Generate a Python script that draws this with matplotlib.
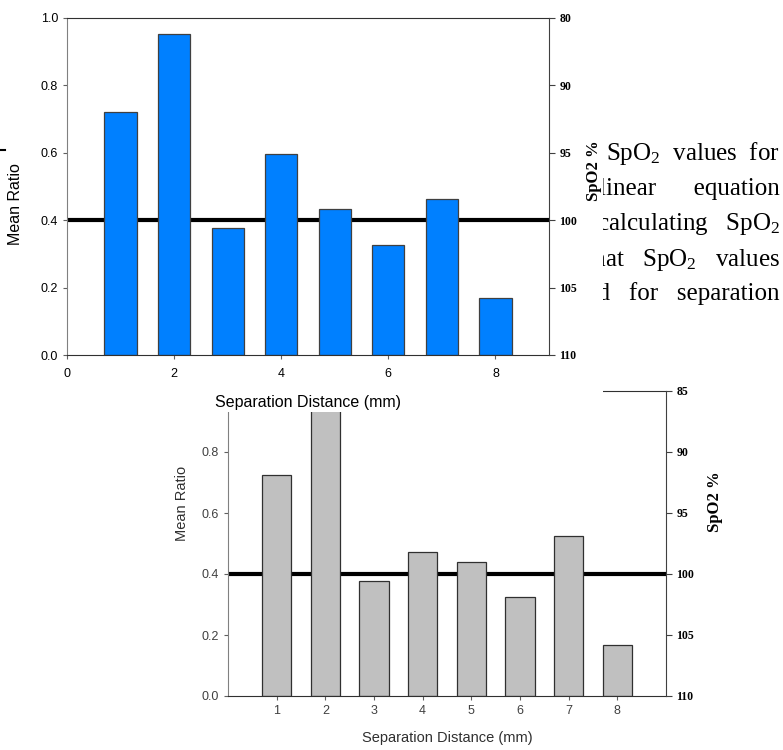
import numpy as np
import matplotlib.pyplot as plt
from matplotlib.lines import Line2D

plt.rcParams['font.family'] = ['Liberation Sans', 'DejaVu Sans']
plt.rcParams['mathtext.fontset'] = 'custom'
plt.rcParams['mathtext.rm'] = 'Liberation Serif'
plt.rcParams['mathtext.it'] = 'Liberation Serif:italic'

# данные
distance = [1, 2, 3, 4, 5, 6, 7, 8]
ratio_top = [0.721, 0.953, 0.377, 0.597, 0.433, 0.326, 0.463, 0.169]
ratio_bottom = [0.725, 0.95, 0.377, 0.472, 0.439, 0.325, 0.525, 0.167]
threshold = 0.4
spo2_ticks = [85, 90, 95, 100, 105, 110]
spo2_labels_top = ['80', '90', '95', '100', '105', '110']
spo2_labels_bottom = ['85', '90', '95', '100', '105', '110']
page_lines = [
    'shows the   SpO$_\\mathrm{2}$  values  for',
    'the linear      equation',
    'for calculating   SpO$_\\mathrm{2}$',
    'that   SpO$_\\mathrm{2}$   values',
    'obtained   for   separation',
]
page_baselines = [160, 195, 230, 266, 300]

W, H = 783, 750
fig = plt.figure(figsize=(W / 100, H / 100), dpi=100)


def box(l, t, r, b):
    return [l / W, 1 - b / H, (r - l) / W, (b - t) / H]


def style_axes(ax, rax, labels, xticks, tick_color):
    ax.set_xlim(0, 9)
    ax.set_ylim(0, 1.0)
    ax.spines['left'].set_color('#808080')
    ax.spines['bottom'].set_color('#303030')
    ax.spines['top'].set_color('#303030')
    ax.spines['right'].set_visible(False)
    ax.tick_params(direction='out', length=3, width=0.8, colors='#606060',
                   labelcolor=tick_color, labelsize=9)
    ax.set_xticks(xticks)
    ax.set_yticks([0.0, 0.2, 0.4, 0.6, 0.8, 1.0])
    ax.set_yticklabels(['0.0', '0.2', '0.4', '0.6', '0.8', '1.0'])
    rax.set_ylim(110, 85)
    rax.set_yticks(spo2_ticks)
    rax.set_yticklabels(labels, family='Liberation Serif', fontweight='bold', fontsize=8.5)
    rax.spines['right'].set_color('#404040')
    for s in ['left', 'top', 'bottom']:
        rax.spines[s].set_visible(False)
    rax.tick_params(direction='out', length=4, width=0.8, colors='#404040', labelcolor='black')


# нижний график (серый)
ax2 = fig.add_axes(box(228, 391, 666, 696))
ax2.set_zorder(1)
ax2.axhline(threshold, color='black', lw=3, zorder=1)
ax2.bar(distance, ratio_bottom, width=0.6, color='#c0c0c0', edgecolor='#303030', lw=0.9, zorder=2)
ax2r = ax2.twinx()
ax2r.set_zorder(1.1)
style_axes(ax2, ax2r, spo2_labels_bottom, distance, '#404040')
fig.text(182 / W, 1 - 503 / H, 'Mean Ratio', rotation=90, ha='center', va='center',
         fontsize=10.5, color='#303030')
fig.text(447 / W, 1 - 738 / H, 'Separation Distance (mm)', ha='center', va='center',
         fontsize=10.5, color='#303030')
fig.text(715 / W, 1 - 502 / H, 'SpO2 %', rotation=90, ha='center', va='center',
         family='Liberation Serif', fontweight='bold', fontsize=12)

# текст страницы
for s, yb in zip(page_lines, page_baselines):
    fig.text(780 / W, 1 - yb / H, s, ha='right', va='baseline',
             family='Liberation Serif', fontsize=18, zorder=1.5)

# белая подложка верхнего графика
bg = fig.add_axes(box(0, 0, 603, 412))
bg.set_zorder(2)
bg.set_xticks([])
bg.set_yticks([])
for s in bg.spines.values():
    s.set_visible(False)
bg.set_facecolor('white')

# верхний график (синий)
ax1 = fig.add_axes(box(67, 18, 549, 355))
ax1.set_zorder(3)
ax1.axhline(threshold, color='black', lw=3, zorder=1)
ax1.bar(distance, ratio_top, width=0.6, color='#0080ff', edgecolor='#404040', lw=0.9, zorder=2)
ax1r = ax1.twinx()
ax1r.set_zorder(3.1)
style_axes(ax1, ax1r, spo2_labels_top, [0, 2, 4, 6, 8], 'black')
ax1.tick_params(axis='x', pad=6)
fig.text(16 / W, 1 - 204 / H, 'Mean Ratio', rotation=90, ha='center', va='center',
         fontsize=11.5, color='black', zorder=4)
fig.text(308 / W, 1 - 402 / H, 'Separation Distance (mm)', ha='center', va='center',
         fontsize=11.5, color='black', zorder=4)
fig.text(594 / W, 1 - 171 / H, 'SpO2 %', rotation=90, ha='center', va='center',
         family='Liberation Serif', fontweight='bold', fontsize=12, zorder=4)
fig.add_artist(Line2D([0, 5 / W], [1 - 150 / H, 1 - 150 / H], color='black', lw=1.5, zorder=4))

plt.savefig('out.png', dpi=100)
